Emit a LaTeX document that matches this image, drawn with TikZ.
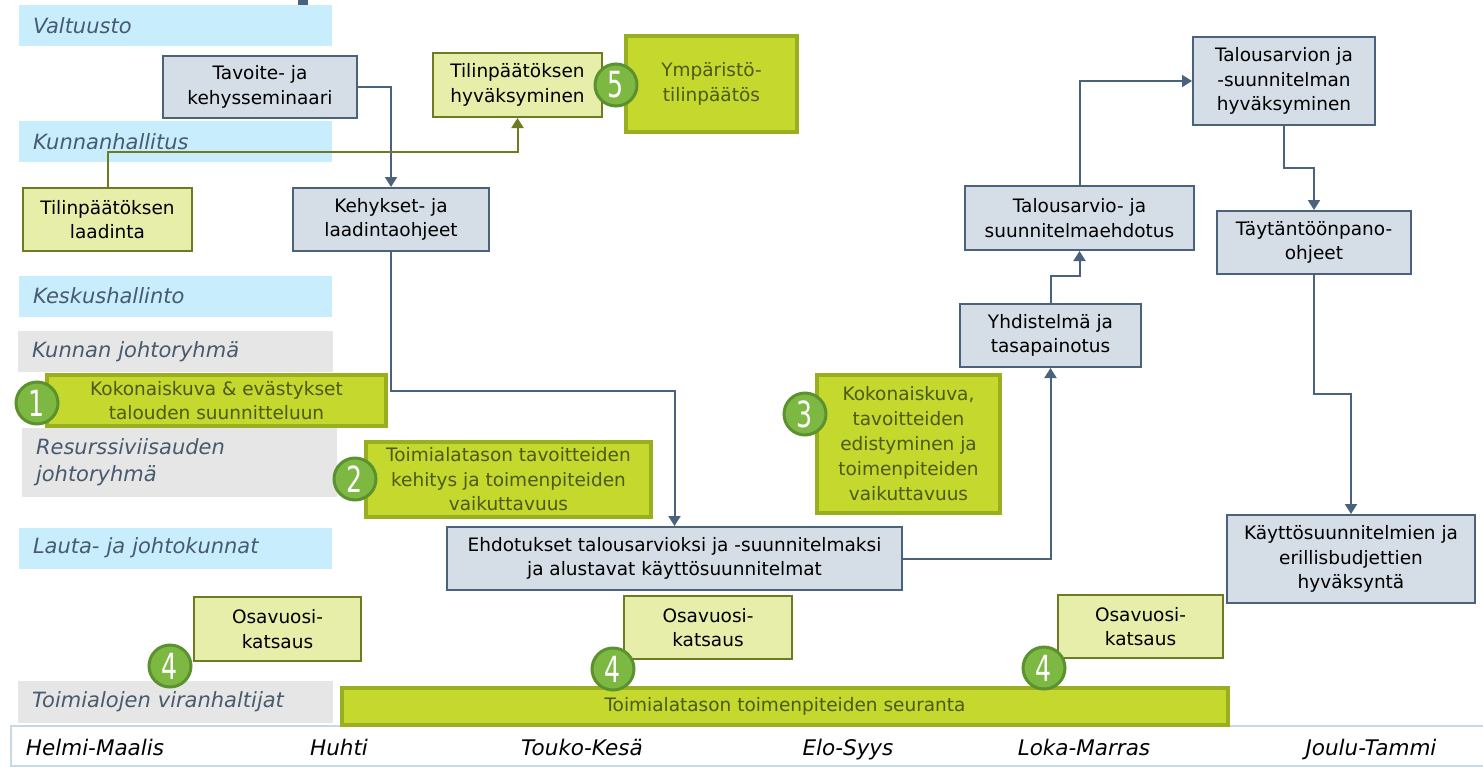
\documentclass[tikz,border=0pt]{standalone}
\usepackage{fontspec}
\usepackage{graphicx}
\setmainfont{DejaVu Sans}
\usetikzlibrary{arrows.meta}
\definecolor{slatefill}{HTML}{D5DEE6}
\definecolor{slateline}{HTML}{4A627C}
\definecolor{lightgreen}{HTML}{E6EEAA}
\definecolor{oliveline}{HTML}{6E7B22}
\definecolor{stronggreen}{HTML}{C4D82E}
\definecolor{greenline}{HTML}{9AAF20}
\definecolor{greentext}{HTML}{4D5A14}
\definecolor{circfill}{HTML}{7CB842}
\definecolor{circline}{HTML}{5C9130}
\definecolor{laneblue}{HTML}{C8EEFD}
\definecolor{lanegrey}{HTML}{E6E6E6}
\definecolor{lanetext}{HTML}{475A6E}
\definecolor{timeline}{HTML}{C8D8E4}
\tikzset{
  basebox/.style={inner sep=0pt, align=center, font=\fontsize{18.5}{24.5}\selectfont},
  sbox/.style={basebox, draw=slateline, fill=slatefill, line width=2pt, text=black},
  lbox/.style={basebox, draw=oliveline, fill=lightgreen, line width=2pt, text=black},
  gbox/.style={basebox, draw=greenline, fill=stronggreen, line width=3.5pt, text=greentext},
  lane/.style={minimum height=41pt, text width=285pt, inner xsep=14pt, inner ysep=0pt, align=left,
    font=\fontsize{21}{27}\selectfont\itshape, text=lanetext},
  blane/.style={lane, fill=laneblue},
  glane/.style={lane, fill=lanegrey},
  num/.style={circle, draw=circline, fill=circfill, line width=3pt, minimum size=42pt, inner sep=0pt,
    text=white, font=\fontsize{36}{36}\selectfont},
  arr/.style={draw=slateline, line width=2pt, -{Triangle[width=12pt,length=10pt]}},
  oarr/.style={draw=oliveline, line width=2pt, -{Triangle[width=12pt,length=10pt]}},
  month/.style={font=\fontsize{21.5}{24}\selectfont\itshape, text=black, inner sep=0pt, anchor=base}
}
\newcommand{\nm}[1]{\scalebox{0.7}[1]{#1}}
\begin{document}
\begin{tikzpicture}[x=1pt,y=-1pt]
\useasboundingbox (0,0) rectangle (1483,766);
% top mark
\fill[slateline] (298,0) rectangle (308,5);
% lanes
\node[blane] (lval) at (175.5,25.5) {Valtuusto};
\node[blane] (lkh) at (175.5,141.5) {Kunnanhallitus};
\node[blane] (lksh) at (175.5,296) {Keskushallinto};
\node[glane, text width=287pt] (lkj) at (175.5,351.5) {Kunnan johtoryhmä};
\node[glane, text width=287pt, minimum height=69pt] (lres) at (179.5,462.5) {Resurssiviisauden\\johtoryhmä};
\node[blane] (llj) at (175.5,548) {Lauta- ja johtokunnat};
\node[glane, text width=287pt, minimum height=42pt] (ltv) at (175.5,702) {Toimialojen viranhaltijat};
% timeline
\node[draw=timeline, line width=1.5pt, fill=white, minimum width=1474pt, minimum height=40pt, inner sep=0pt] (tl) at (748,746) {};
\node[month] (m1) at (95,755) {Helmi-Maalis};
\node[month] (m2) at (339,755) {Huhti};
\node[month] (m3) at (582,755) {Touko-Kesä};
\node[month] (m4) at (848,755) {Elo-Syys};
\node[month] (m5) at (1084,755) {Loka-Marras};
\node[month] (m6) at (1371,755) {Joulu-Tammi};
% slate boxes
\node[sbox, minimum width=194pt, minimum height=62pt] (tav) at (260,87) {Tavoite- ja\\kehysseminaari};
\node[sbox, minimum width=196pt, minimum height=63pt] (keh) at (391,219.5) {Kehykset- ja\\laadintaohjeet};
\node[sbox, minimum width=182pt, minimum height=88pt] (tahyv) at (1284,81) {Talousarvion ja\\-suunnitelman\\hyväksyminen};
\node[sbox, minimum width=229pt, minimum height=64pt] (taehd) at (1079.5,218) {Talousarvio- ja\\suunnitelmaehdotus};
\node[sbox, minimum width=194pt, minimum height=63pt] (tayt) at (1314,242.5) {Täytäntöönpano-\\ohjeet};
\node[sbox, minimum width=181pt, minimum height=63pt] (yhd) at (1050.5,335.5) {Yhdistelmä ja\\tasapainotus};
\node[sbox, minimum width=455pt, minimum height=63pt] (ehd) at (674.5,558.5) {Ehdotukset talousarvioksi ja -suunnitelmaksi\\ja alustavat käyttösuunnitelmat};
\node[sbox, minimum width=248pt, minimum height=88pt] (kayt) at (1351,559) {Käyttösuunnitelmien ja\\erillisbudjettien\\hyväksyntä};
% light green boxes
\node[lbox, minimum width=169pt, minimum height=63pt] (tlaad) at (107.5,219.5) {Tilinpäätöksen\\laadinta};
\node[lbox, minimum width=169pt, minimum height=64pt] (thyv) at (517.5,85) {Tilinpäätöksen\\hyväksyminen};
\node[lbox, minimum width=167pt, minimum height=64pt] (os1) at (277.5,629) {Osavuosi-\\katsaus};
\node[lbox, minimum width=168pt, minimum height=63pt] (os2) at (708,627.5) {Osavuosi-\\katsaus};
\node[lbox, minimum width=165pt, minimum height=63pt] (os3) at (1140.5,626.5) {Osavuosi-\\katsaus};
% strong green boxes
\node[gbox, minimum width=171pt, minimum height=96pt] (ymp) at (711.5,84) {Ympäristö-\\tilinpäätös};
\node[gbox, minimum width=339pt, minimum height=51pt] (g1) at (216.5,400.5) {Kokonaiskuva \& evästykset\\talouden suunnitteluun};
\node[gbox, minimum width=285pt, minimum height=75pt] (g2) at (508.5,479.5) {Toimialatason tavoitteiden\\kehitys ja toimenpiteiden\\vaikuttavuus};
\node[gbox, minimum width=183pt, minimum height=138pt, font=\fontsize{18.5}{25}\selectfont] (g3) at (908.5,444) {Kokonaiskuva,\\tavoitteiden\\edistyminen ja\\toimenpiteiden\\vaikuttavuus};
\node[gbox, minimum width=886pt, minimum height=37pt] (seur) at (785,706.5) {Toimialatason toimenpiteiden seuranta};
% connectors
\draw[arr] (tav.east) -| (keh.north);
\draw[oarr] (tlaad.north) -- ++(0,-35) -| (thyv.south);
\draw[arr] (keh.south) -- ++(0,139) -| (ehd.north);
\draw[arr] (ehd.east) -| (yhd.south);
\draw[arr] (yhd.north) -- ++(0,-27) -| (taehd.south);
\draw[arr] (taehd.north) |- (tahyv.west);
\draw[arr] (tahyv.south) -- ++(0,42) -| (tayt.north);
\draw[arr] (tayt.south) -- ++(0,119) -| (kayt.north);
% number circles
\node[num] (c1) at (37,403) {\nm{1}};
\node[num] (c2) at (355,479) {\nm{2}};
\node[num] (c3) at (805,414) {\nm{3}};
\node[num] (c4a) at (170,666) {\nm{4}};
\node[num] (c4b) at (613,669) {\nm{4}};
\node[num] (c4c) at (1044,668) {\nm{4}};
\node[num] (c5) at (616,85) {\nm{5}};
\end{tikzpicture}
\end{document}
